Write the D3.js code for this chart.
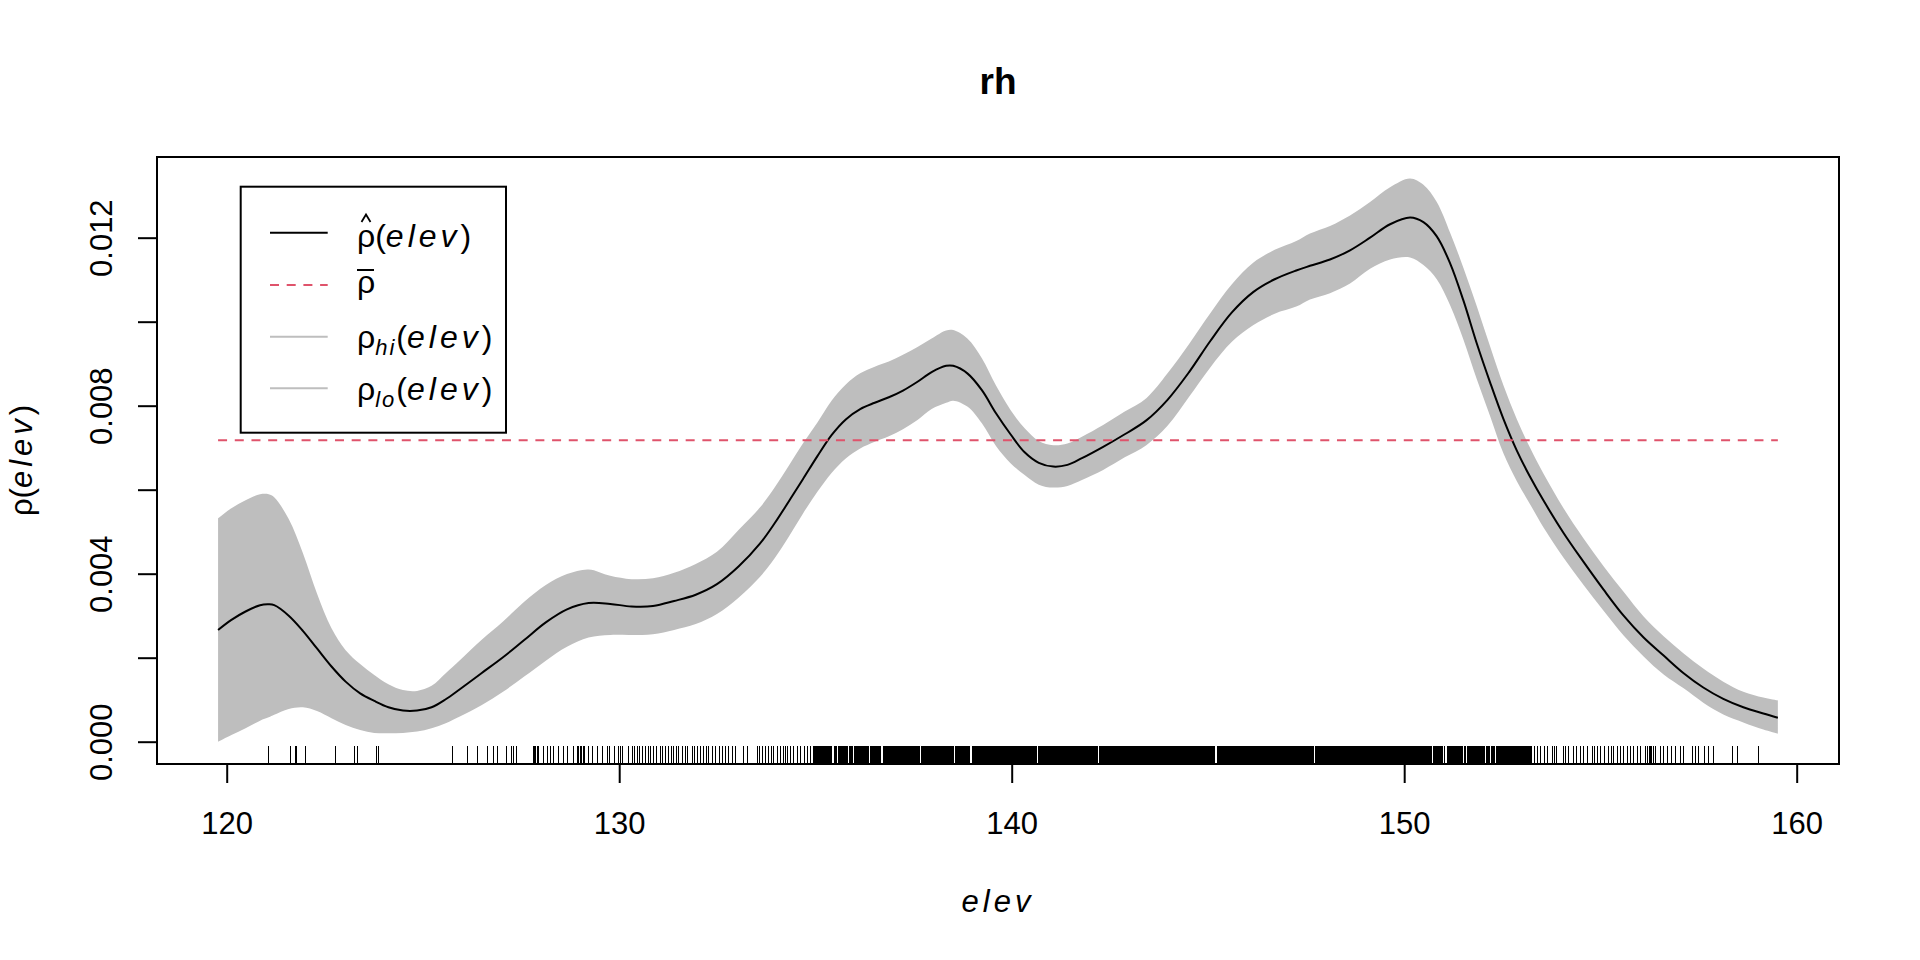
<!DOCTYPE html>
<html>
<head>
<meta charset="utf-8">
<script src="https://cdn.jsdelivr.net/npm/d3@7"></script>
<style>
  body { margin: 0; background: #fff; }
  svg { display: block; font-family: "Liberation Sans", Arial, sans-serif; }
</style>
</head>
<body>
<div id="chart"></div>
<script>
// elevation grid and estimated intensity
const elev = [119.78, 120.12, 120.48, 120.85, 121.07, 121.21, 121.58, 121.94, 122.30, 122.67,
    123.03, 123.40, 123.76, 124.12, 124.49, 124.85, 125.22, 125.58, 125.94, 126.49,
    127.04, 127.58, 128.13, 128.67, 129.22, 129.77, 130.31, 130.86, 131.40, 131.95,
    132.49, 133.04, 133.59, 133.96, 134.32, 134.68, 135.05, 135.41, 135.78, 136.14,
    136.51, 136.87, 137.23, 137.60, 137.96, 138.33, 138.51, 138.87, 139.24, 139.60,
    139.97, 140.33, 140.69, 141.06, 141.42, 141.79, 142.33, 142.88, 143.43, 143.97,
    144.52, 145.06, 145.61, 146.16, 146.70, 147.25, 147.60, 148.11, 148.62, 149.13,
    149.64, 150.15, 150.49, 150.83, 151.17, 151.51, 151.85, 152.19, 152.53, 152.87,
    153.21, 153.55, 154.06, 154.57, 155.08, 155.59, 156.10, 156.61, 157.12, 157.62,
    158.13, 158.64, 159.15, 159.52];

const rhoHat = [0.00266, 0.00290, 0.00310, 0.00325, 0.00327, 0.00325, 0.00300, 0.00264, 0.00222, 0.00179,
    0.00143, 0.00115, 0.00097, 0.00082, 0.00074, 0.00074, 0.00082, 0.00101, 0.00125, 0.00163,
    0.00201, 0.00242, 0.00284, 0.00315, 0.00330, 0.00328, 0.00322, 0.00323, 0.00335, 0.00350,
    0.00375, 0.00417, 0.00472, 0.00520, 0.00572, 0.00625, 0.00680, 0.00730, 0.00768, 0.00792,
    0.00807, 0.00820, 0.00836, 0.00857, 0.00880, 0.00895, 0.00895, 0.00877, 0.00837, 0.00782,
    0.00732, 0.00689, 0.00664, 0.00655, 0.00659, 0.00675, 0.00702, 0.00732, 0.00765, 0.00814,
    0.00880, 0.00954, 0.01022, 0.01071, 0.01101, 0.01122, 0.01133, 0.01148, 0.01170, 0.01200,
    0.01232, 0.01248, 0.01237, 0.01203, 0.01139, 0.01050, 0.00948, 0.00855, 0.00768, 0.00693,
    0.00630, 0.00574, 0.00497, 0.00428, 0.00362, 0.00300, 0.00248, 0.00205, 0.00163, 0.00129,
    0.00102, 0.00082, 0.00067, 0.00057];

const rhoHi = [0.00532, 0.00556, 0.00575, 0.00589, 0.00589, 0.00582, 0.00530, 0.00449, 0.00353, 0.00270,
    0.00218, 0.00185, 0.00159, 0.00137, 0.00123, 0.00121, 0.00133, 0.00163, 0.00194, 0.00242,
    0.00286, 0.00333, 0.00373, 0.00399, 0.00410, 0.00395, 0.00387, 0.00389, 0.00402, 0.00423,
    0.00452, 0.00504, 0.00558, 0.00605, 0.00657, 0.00710, 0.00760, 0.00812, 0.00851, 0.00877,
    0.00893, 0.00905, 0.00921, 0.00940, 0.00960, 0.00979, 0.00980, 0.00960, 0.00913, 0.00848,
    0.00790, 0.00746, 0.00716, 0.00706, 0.00710, 0.00726, 0.00754, 0.00786, 0.00818, 0.00877,
    0.00947, 0.01020, 0.01089, 0.01141, 0.01171, 0.01192, 0.01210, 0.01228, 0.01253, 0.01285,
    0.01320, 0.01341, 0.01326, 0.01285, 0.01212, 0.01128, 0.01037, 0.00941, 0.00848, 0.00768,
    0.00699, 0.00638, 0.00556, 0.00484, 0.00418, 0.00357, 0.00298, 0.00251, 0.00210, 0.00174,
    0.00143, 0.00119, 0.00105, 0.00098];

const rhoLo = [0.00000, 0.00016, 0.00032, 0.00050, 0.00058, 0.00064, 0.00078, 0.00082, 0.00073, 0.00056,
    0.00040, 0.00028, 0.00021, 0.00020, 0.00021, 0.00024, 0.00032, 0.00044, 0.00060, 0.00087,
    0.00119, 0.00155, 0.00193, 0.00226, 0.00248, 0.00254, 0.00254, 0.00256, 0.00266, 0.00280,
    0.00304, 0.00343, 0.00393, 0.00437, 0.00488, 0.00543, 0.00595, 0.00640, 0.00675, 0.00698,
    0.00714, 0.00727, 0.00744, 0.00766, 0.00792, 0.00807, 0.00812, 0.00798, 0.00758, 0.00704,
    0.00663, 0.00635, 0.00612, 0.00605, 0.00609, 0.00623, 0.00647, 0.00677, 0.00706, 0.00752,
    0.00821, 0.00891, 0.00952, 0.00992, 0.01019, 0.01036, 0.01053, 0.01068, 0.01091, 0.01126,
    0.01148, 0.01153, 0.01135, 0.01101, 0.01039, 0.00957, 0.00863, 0.00775, 0.00686, 0.00620,
    0.00565, 0.00510, 0.00438, 0.00373, 0.00312, 0.00253, 0.00203, 0.00160, 0.00127, 0.00093,
    0.00065, 0.00046, 0.00029, 0.00019];

const rhoBar = 0.00718;

// rug: single ticks where they can be told apart, solid runs where they merge
const rugTicks = [121.04, 121.62, 121.74, 121.77, 121.99, 122.76, 123.24, 123.31, 123.80, 123.85,
    125.75, 126.11, 126.37, 126.64, 126.79, 126.88, 127.11, 127.24, 127.30, 127.37,
    127.80, 127.83, 127.86, 127.90, 127.94, 128.07, 128.15, 128.24, 128.32, 128.45,
    128.56, 128.68, 128.82, 128.92, 128.95, 128.99, 129.03, 129.07, 129.10, 129.20,
    129.31, 129.43, 129.55, 129.68, 129.75, 129.87, 129.98, 130.02, 130.06, 130.23,
    130.32, 130.38, 130.45, 130.51, 130.57, 130.66, 130.74, 130.79, 130.85, 130.95,
    131.04, 131.08, 131.17, 131.25, 131.31, 131.38, 131.45, 131.51, 131.59, 131.68,
    131.74, 131.85, 131.91, 131.97, 132.06, 132.13, 132.21, 132.27, 132.36, 132.44,
    132.53, 132.61, 132.70, 132.78, 132.87, 132.95, 133.16, 133.25, 133.50, 133.57,
    133.63, 133.71, 133.80, 133.86, 133.93, 134.01, 134.10, 134.17, 134.22, 134.28,
    134.35, 134.44, 134.54, 134.61, 134.71, 134.78, 134.86,
    153.30, 153.38, 153.45, 153.56, 153.63, 153.76, 153.82, 153.88, 154.04, 154.10,
    154.18, 154.31, 154.39, 154.48, 154.55, 154.65, 154.78, 154.84, 154.90, 154.99,
    155.09, 155.18, 155.26, 155.33, 155.41, 155.50, 155.58, 155.67, 155.75, 155.84,
    155.94, 156.02, 156.14, 156.19, 156.23, 156.26, 156.30, 156.33, 156.39, 156.52,
    156.60, 156.69, 156.79, 156.90, 157.03, 157.10, 157.32, 157.41, 157.49, 157.64,
    157.75, 157.88, 158.36, 158.47, 159.02];

const rugSolid = [[134.95, 135.43], [135.46, 135.55], [135.58, 135.83], [135.86, 135.95],
    [135.98, 136.36], [136.39, 136.68], [136.71, 137.67], [137.70, 138.52], [138.55, 138.95],
    [138.98, 140.64], [140.67, 142.20], [142.23, 145.19], [145.22, 147.70], [147.73, 150.71],
    [150.74, 150.99], [151.02, 151.05], [151.08, 151.50], [151.53, 151.58], [151.61, 152.05],
    [152.08, 152.18], [152.21, 152.31], [152.34, 153.25]];

const xTicks = [120, 130, 140, 150, 160];
const yTicks = [0, 0.002, 0.004, 0.006, 0.008, 0.010, 0.012];
const yLabelled = [0, 0.004, 0.008, 0.012];

const width = 1920;
const height = 960;
const box = { left: 157, right: 1839, top: 157, bottom: 764 };

const svg = d3.select("#chart").append("svg")
    .attr("width", width)
    .attr("height", height);

const x = d3.scaleLinear().domain([118.224, 161.078]).range([box.left, box.right]);
const y = d3.scaleLinear().domain([-0.000531, 0.013921]).range([box.bottom, box.top]);

const pts = elev.map((e, i) => ({ e: e, hat: rhoHat[i], hi: rhoHi[i], lo: rhoLo[i] }));
const smooth = d3.curveCatmullRom.alpha(0.5);

// confidence band
svg.append("path")
    .datum(pts)
    .attr("d", d3.area()
        .x(d => x(d.e))
        .y0(d => y(d.lo))
        .y1(d => y(d.hi))
        .curve(smooth))
    .style("fill", "#bebebe");

// estimate
svg.append("path")
    .datum(pts)
    .attr("d", d3.line()
        .x(d => x(d.e))
        .y(d => y(d.hat))
        .curve(smooth))
    .style("fill", "none")
    .style("stroke", "#000")
    .style("stroke-width", 2);

// average intensity
svg.append("line")
    .attr("x1", x(d3.min(elev)))
    .attr("x2", x(d3.max(elev)))
    .attr("y1", y(rhoBar))
    .attr("y2", y(rhoBar))
    .style("stroke", "#df536b")
    .style("stroke-width", 2)
    .style("stroke-dasharray", "9,7.7");

// rug
const rugH = 0.03 * (box.bottom - box.top);
svg.append("g").selectAll("line")
    .data(rugTicks)
    .enter().append("line")
    .attr("x1", d => Math.round(x(d)) + 0.5)
    .attr("x2", d => Math.round(x(d)) + 0.5)
    .attr("y1", box.bottom)
    .attr("y2", box.bottom - rugH)
    .attr("shape-rendering", "crispEdges")
    .style("stroke", "#000")
    .style("stroke-width", 1);

svg.append("g").selectAll("rect")
    .data(rugSolid)
    .enter().append("rect")
    .attr("x", d => x(d[0]))
    .attr("width", d => x(d[1]) - x(d[0]))
    .attr("y", box.bottom - rugH)
    .attr("height", rugH)
    .attr("shape-rendering", "crispEdges")
    .style("fill", "#000");

// axes
const xAxis = svg.append("g")
    .attr("transform", `translate(0,${box.bottom})`)
    .call(d3.axisBottom(x).tickValues(xTicks).tickSize(19).tickSizeOuter(0)
        .tickFormat(d3.format("d")));
xAxis.select(".domain").remove();
xAxis.selectAll("line").style("stroke", "#000").style("stroke-width", 2);
xAxis.selectAll("text")
    .attr("y", 70)
    .attr("dy", 0)
    .style("font-size", "31px")
    .style("fill", "#000");

const yAxis = svg.append("g")
    .attr("transform", `translate(${box.left},0)`)
    .call(d3.axisLeft(y).tickValues(yTicks).tickSize(19).tickSizeOuter(0)
        .tickFormat(d => yLabelled.includes(d) ? d3.format(".3f")(d) : ""));
yAxis.select(".domain").remove();
yAxis.selectAll("line").style("stroke", "#000").style("stroke-width", 2);
yAxis.selectAll("text")
    .attr("x", 0)
    .attr("dy", 0)
    .attr("text-anchor", "middle")
    .attr("transform", `translate(${112 - box.left},0) rotate(-90)`)
    .style("font-size", "31px")
    .style("fill", "#000");

// plot frame
svg.append("rect")
    .attr("x", box.left)
    .attr("y", box.top)
    .attr("width", box.right - box.left)
    .attr("height", box.bottom - box.top)
    .style("fill", "none")
    .style("stroke", "#000")
    .style("stroke-width", 2);

// title and axis labels
const midX = (box.left + box.right) / 2;
svg.append("text")
    .attr("x", midX)
    .attr("y", 94)
    .attr("text-anchor", "middle")
    .style("font-size", "37px")
    .style("font-weight", "bold")
    .text("rh");

svg.append("text")
    .attr("x", midX)
    .attr("y", 912)
    .attr("text-anchor", "middle")
    .style("font-size", "31px")
    .style("font-style", "italic")
    .style("letter-spacing", "4px")
    .text("elev");

const ylab = svg.append("text")
    .attr("transform", `translate(32,${(box.top + box.bottom) / 2}) rotate(-90)`)
    .attr("text-anchor", "middle")
    .style("font-size", "31px");
ylab.append("tspan").text("ρ(");
ylab.append("tspan").style("font-style", "italic").style("letter-spacing", "4px").text("elev");
ylab.append("tspan").text(")");

// legend
const lg = svg.append("g");
lg.append("rect")
    .attr("x", 240.7)
    .attr("y", 186.7)
    .attr("width", 265.3)
    .attr("height", 246)
    .style("fill", "#fff")
    .style("stroke", "#000")
    .style("stroke-width", 2);

const rows = [
    { y: 232.7, stroke: "#000", dash: null },
    { y: 285, stroke: "#df536b", dash: "9,7.7" },
    { y: 336.7, stroke: "#bebebe", dash: null },
    { y: 388.3, stroke: "#bebebe", dash: null }
];
lg.selectAll(".key")
    .data(rows)
    .enter().append("line")
    .attr("class", "key")
    .attr("x1", 270)
    .attr("x2", 327.7)
    .attr("y1", d => d.y)
    .attr("y2", d => d.y)
    .style("stroke", d => d.stroke)
    .style("stroke-width", 2)
    .style("stroke-dasharray", d => d.dash);

const tx = 357;
function elevArg(t) {
    t.append("tspan").text("(");
    t.append("tspan").style("font-style", "italic").style("letter-spacing", "4px").text("elev");
    t.append("tspan").text(")");
}

// rho hat
const t1 = lg.append("text").attr("x", tx).attr("y", 247).style("font-size", "32px");
t1.append("tspan").text("ρ");
elevArg(t1);
lg.append("path")
    .attr("d", `M${tx + 4.5},222 L${tx + 9},214.5 L${tx + 13.5},222`)
    .style("fill", "none")
    .style("stroke", "#000")
    .style("stroke-width", 1.8);

// rho bar
lg.append("text").attr("x", tx).attr("y", 293).style("font-size", "32px").text("ρ");
lg.append("line")
    .attr("x1", tx).attr("x2", tx + 17)
    .attr("y1", 270).attr("y2", 270)
    .style("stroke", "#000")
    .style("stroke-width", 2);

// rho hi / lo
[["hi", 348], ["lo", 400]].forEach(([sub, by]) => {
    const t = lg.append("text").attr("x", tx).attr("y", by).style("font-size", "32px");
    t.append("tspan").text("ρ");
    t.append("tspan")
        .attr("dy", 7)
        .style("font-size", "22px")
        .style("font-style", "italic")
        .style("letter-spacing", "2px")
        .text(sub);
    t.append("tspan").attr("dy", -7).text("(");
    t.append("tspan").style("font-style", "italic").style("letter-spacing", "4px").text("elev");
    t.append("tspan").text(")");
});
</script>
</body>
</html>
